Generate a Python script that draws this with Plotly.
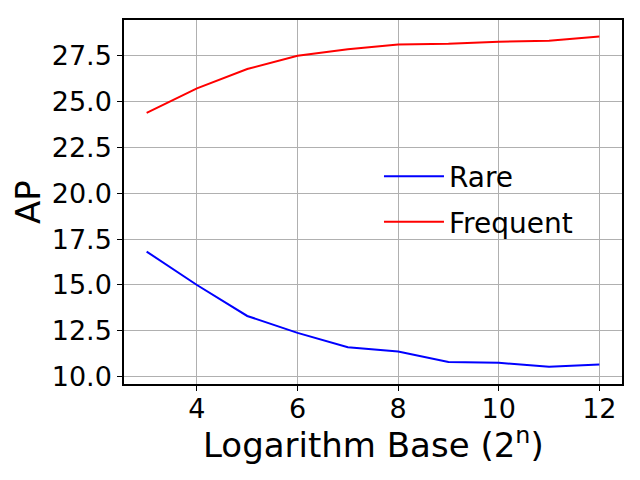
import plotly.graph_objects as go

# log base exponents n (base = 2^n)
log_base = [3, 4, 5, 6, 7, 8, 9, 10, 11, 12]
ap_rare = [16.82, 15.00, 13.31, 12.39, 11.61, 11.37, 10.80, 10.76, 10.54, 10.67]
ap_frequent = [24.39, 25.72, 26.78, 27.50, 27.86, 28.11, 28.15, 28.26, 28.32, 28.55]

x_ticks = [4, 6, 8, 10, 12]
y_ticks = [10.0, 12.5, 15.0, 17.5, 20.0, 22.5, 25.0, 27.5]

fig = go.Figure()
fig.add_trace(go.Scatter(x=log_base, y=ap_rare, mode="lines", name="Rare",
                         legendgroup="rare",
                         line=dict(color="#0000ff", width=2)))
fig.add_trace(go.Scatter(x=log_base, y=ap_frequent, mode="lines", name="Frequent",
                         legendgroup="frequent",
                         line=dict(color="#ff0000", width=2)))

axis_common = dict(
    showgrid=True, gridcolor="#b0b0b0", gridwidth=1,
    showline=True, linecolor="black", linewidth=1.5, mirror=True,
    ticks="outside", ticklen=5, tickwidth=1, tickcolor="black",
    zeroline=False, automargin=True,
    tickfont=dict(family="DejaVu Sans", size=27, color="black"),
)

# page body has an 8px margin, so margins are shifted to compensate
fig.update_layout(
    width=640, height=480,
    paper_bgcolor="white", plot_bgcolor="white",
    margin=dict(l=114, r=26, t=10, b=104),
    font=dict(family="DejaVu Sans", color="black"),
    xaxis=dict(axis_common, range=[2.55, 12.45], tickvals=x_ticks,
               ticklabelstandoff=-5),
    yaxis=dict(axis_common, range=[9.6, 29.45], tickvals=y_ticks,
               tickformat=".1f",
               title=dict(text="AP", font=dict(size=34), standoff=10)),
    legend=dict(x=0.512, y=0.508, xanchor="left", yanchor="middle",
                itemwidth=60, tracegroupgap=6,
                bgcolor="rgba(0,0,0,0)", borderwidth=0,
                font=dict(family="DejaVu Sans", size=28, color="black")),
)

# x axis title as annotation so it sits closer to the tick labels
fig.add_annotation(text="Logarithm Base (2<sup>n</sup>)", xref="paper", yref="paper",
                   x=0.5, y=-0.163, xanchor="center", yanchor="middle",
                   showarrow=False, font=dict(family="DejaVu Sans", size=34, color="black"))

fig.write_html("out.html")
